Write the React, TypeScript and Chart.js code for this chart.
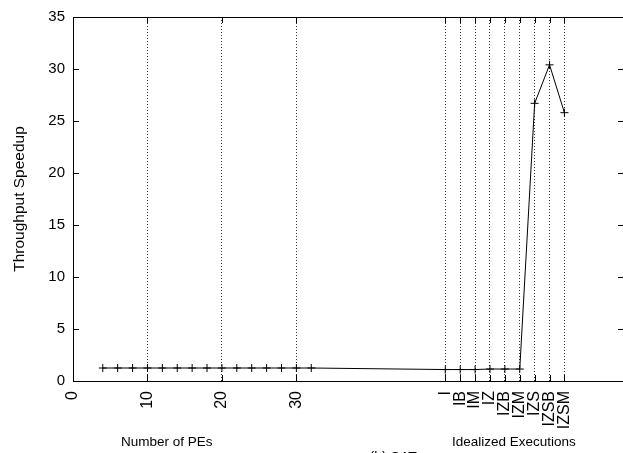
import React, { useEffect, useRef } from "react";
import { Chart, registerables } from "chart.js";

Chart.register(...registerables);

// ---- data ----
const peCounts = [4, 6, 8, 10, 12, 14, 16, 18, 20, 22, 24, 26, 28, 30, 32];
const peSpeedup = [1.25, 1.25, 1.25, 1.25, 1.25, 1.25, 1.25, 1.25, 1.25, 1.25, 1.25, 1.25, 1.25, 1.25, 1.25];
const idealLabels = ["I", "IB", "IM", "IZ", "IZB", "IZM", "IZS", "IZSB", "IZSM"];
const idealPositions = [50, 52, 54, 56, 58, 60, 62, 64, 66];
const idealSpeedup = [1.1, 1.1, 1.1, 1.15, 1.15, 1.15, 26.7, 30.4, 25.8];
const peTicks = [0, 10, 20, 30];
const yTicks = [0, 5, 10, 15, 20, 25, 30, 35];
const xMax = 74;

const FONT = "'Liberation Sans', Arial, Helvetica, sans-serif";
const W = 700;
const H = 480;

const tickValues = [...peTicks, ...idealPositions];
const labelFor = (v: number) => {
  const i = idealPositions.indexOf(v);
  return i >= 0 ? idealLabels[i] : String(v);
};

const framePlugin = {
  id: "gnuframe",
  afterDraw(chart: any) {
    const { ctx, chartArea } = chart;
    const { left, right, top, bottom } = chartArea;
    const xs = chart.scales.x;
    const ys = chart.scales.y;
    ctx.save();
    ctx.strokeStyle = "#000";
    ctx.lineWidth = 1;
    ctx.setLineDash([]);
    ctx.strokeRect(Math.round(left) + 0.5, Math.round(top) + 0.5, Math.round(right - left), Math.round(bottom - top));
    // inward ticks
    ctx.beginPath();
    for (const v of yTicks) {
      const y = Math.round(ys.getPixelForValue(v)) + 0.5;
      ctx.moveTo(left, y);
      ctx.lineTo(left + 6, y);
      ctx.moveTo(right, y);
      ctx.lineTo(right - 6, y);
    }
    for (const v of tickValues) {
      const x = Math.round(xs.getPixelForValue(v)) + 0.5;
      ctx.moveTo(x, bottom);
      ctx.lineTo(x, bottom - 6);
      ctx.moveTo(x, top);
      ctx.lineTo(x, top + 6);
    }
    ctx.stroke();
    // axis captions
    ctx.fillStyle = "#000";
    ctx.font = `13.5px ${FONT}`;
    ctx.textAlign = "center";
    ctx.textBaseline = "alphabetic";
    ctx.fillText("Number of PEs", xs.getPixelForValue(12.6), 446);
    ctx.fillText("Idealized Executions", xs.getPixelForValue(59.2), 446);
    ctx.font = `14px ${FONT}`;
    ctx.fillText("(b) SAT", xs.getPixelForValue(43), 462);
    ctx.restore();
  },
};

export default function App() {
  const ref = useRef<HTMLCanvasElement>(null);
  useEffect(() => {
    const canvas = ref.current!;
    const points = [
      ...peCounts.map((x, i) => ({ x, y: peSpeedup[i] })),
      ...idealPositions.map((x, i) => ({ x, y: idealSpeedup[i] })),
    ];
    const chart = new Chart(canvas, {
      type: "line",
      data: {
        datasets: [
          {
            data: points,
            borderColor: "#000",
            backgroundColor: "#000",
            borderWidth: 1,
            pointStyle: "cross",
            pointRadius: 4,
            pointBorderWidth: 1,
            pointBorderColor: "#000",
            tension: 0,
            fill: false,
          },
        ],
      },
      options: {
        responsive: false,
        devicePixelRatio: 1,
        animation: false,
        events: [],
        layout: { padding: { top: 11, right: W - 624, left: 0, bottom: 0 } },
        plugins: { legend: { display: false }, tooltip: { enabled: false } },
        scales: {
          x: {
            type: "linear",
            min: 0,
            max: xMax,
            afterBuildTicks: (s: any) => {
              s.ticks = tickValues.map((v) => ({ value: v }));
            },
            afterFit: (s: any) => {
              s.height = H - 381;
            },
            ticks: {
              autoSkip: false,
              minRotation: 90,
              maxRotation: 90,
              padding: 10,
              color: "#000",
              font: { family: FONT, size: 16 },
              callback: (v: any) => labelFor(Number(v)),
            },
            grid: {
              drawTicks: false,
              lineWidth: 1,
              color: (ctx: any) => (ctx.tick && ctx.tick.value === 0 ? "rgba(0,0,0,0)" : "rgba(0,0,0,0.8)"),
            },
            border: { display: false, dash: [1, 2] },
          },
          y: {
            min: 0,
            max: 35,
            afterBuildTicks: (s: any) => {
              s.ticks = yTicks.map((v) => ({ value: v }));
            },
            afterFit: (s: any) => {
              s.width = 73;
            },
            ticks: {
              padding: 8,
              color: "#000",
              font: { family: FONT, size: 15 },
            },
            grid: { display: false, drawTicks: false },
            border: { display: false },
            title: {
              display: true,
              text: "Throughput Speedup",
              color: "#000",
              font: { family: FONT, size: 15.5 },
              padding: { top: 10, bottom: 0 },
            },
          },
        },
      },
      plugins: [framePlugin],
    });
    return () => chart.destroy();
  }, []);
  return (
    <div style={{ position: "fixed", left: 0, top: 0, width: 623, height: 453, overflow: "hidden", background: "#fff" }}>
      <canvas ref={ref} width={W} height={H} style={{ position: "absolute", left: 0, top: 0, width: W, height: H }} />
    </div>
  );
}
